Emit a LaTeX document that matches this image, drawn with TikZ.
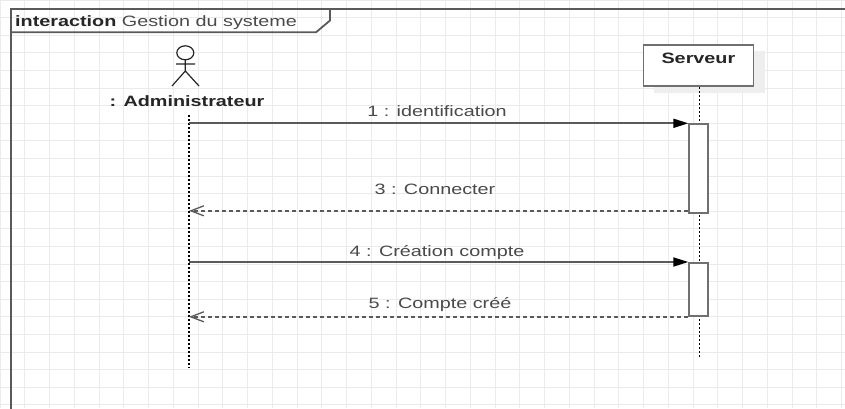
\documentclass[tikz,border=0pt]{standalone}
\usepackage{fontspec}
\setmainfont{Liberation Sans}[FakeStretch=1.32]
\usetikzlibrary{arrows.meta}
\definecolor{gridc}{HTML}{EBEBEB}
\definecolor{linec}{HTML}{5A5A5A}
\definecolor{boxc}{HTML}{707070}
\definecolor{txtc}{HTML}{4A4A4A}
\definecolor{darkc}{HTML}{262626}
\definecolor{shadowc}{HTML}{EEEEEE}
\begin{document}
\begin{tikzpicture}[x=1pt,y=-1pt,
  font=\fontsize{15}{18}\selectfont,
  gridline/.style={draw=gridc, line width=1pt},
  framel/.style={draw=linec, line width=1.8pt},
  msg/.style={draw=linec, line width=1.8pt, -{Triangle[length=15pt,width=9pt,color=black,fill=black]}},
  ret/.style={draw=linec, line width=1.5pt, dash pattern=on 4pt off 3pt, -{Straight Barb[length=13pt,width=10pt,line width=1.3pt]}},
  lifeline/.style={draw=black, line width=1.5pt, dash pattern=on 2pt off 2pt},
  act/.style={draw=boxc, fill=white, line width=1.8pt, rectangle, inner sep=0pt, minimum width=19pt, anchor=north west},
  lbl/.style={text=txtc, inner sep=0pt, anchor=base},
  actorl/.style={draw=darkc, line width=1.2pt}
]
\useasboundingbox (0,0) rectangle (845,408);
\fill[white] (0,0) rectangle (845,408);
% grid
\foreach \i in {0,...,34} \draw[gridline] (\i*24.75,0) -- (\i*24.75,408);
\foreach \j in {0,...,23} \draw[gridline] (0,\j*17.6) -- (845,\j*17.6);
% frame
\draw[framel] (11,410) -- (11,9) -- (847,9);
\draw[framel] (11,32.3) -- (316,32.3) -- (330,20.5) -- (330,9);
\node[anchor=base west, inner sep=0pt] (title) at (15,26.7) {\textcolor{darkc}{\bfseries interaction} \textcolor{txtc}{Gestion du systeme}};
% actor
\draw[actorl] (185.3,52.8) ellipse [x radius=8.5, y radius=7];
\draw[actorl] (185.3,59.8) -- (185.3,71) (176,64) -- (195,64)
  (185.3,71) -- (172,86) (185.3,71) -- (199,86);
\node[lbl, text=darkc, font=\fontsize{15}{18}\selectfont\bfseries] (admin) at (187,106) {: Administrateur};
% server
\fill[shadowc] (653.5,50.7) rectangle (765,93.4);
\node[draw=boxc, fill=white, line width=1.8pt, minimum width=110pt, minimum height=41.5pt, inner sep=0pt] (srv) at (698.4,65.4) {};
\node[lbl, text=darkc, font=\fontsize{15}{18}\selectfont\bfseries] (srvlbl) at (698.4,63.3) {Serveur};
% lifelines
\coordinate (aTop) at (189,115);
\coordinate (aBot) at (189,368);
\coordinate (sTop) at (699.3,87);
\coordinate (sBot) at (699.3,358);
\draw[lifeline] (aTop) -- (aBot);
\draw[lifeline] (sTop) -- (sBot);
% activations
\node[act, minimum height=88.5pt] (act1) at (688.3,123.3) {};
\node[act, minimum height=53pt] (act2) at (688.3,262) {};
% messages
\coordinate (m1) at (aTop |- act1.north west);
\coordinate (m3) at (189,210.8);
\coordinate (m4) at (aTop |- act2.north west);
\coordinate (m5) at (aTop |- act2.south west);
\draw[msg] (m1) -- (act1.north west);
\draw[ret] (act1.south west |- m3) -- (m3);
\draw[msg] (m4) -- (act2.north west);
\draw[ret] (act2.south west) -- (m5);
% labels
\node[lbl] (l1) at (437,116.7) {1 : identification};
\node[lbl] (l3) at (435,194.3) {3 : Connecter};
\node[lbl] (l4) at (437,256) {4 : Création compte};
\node[lbl] (l5) at (440,308.3) {5 : Compte créé};
\end{tikzpicture}
\end{document}
